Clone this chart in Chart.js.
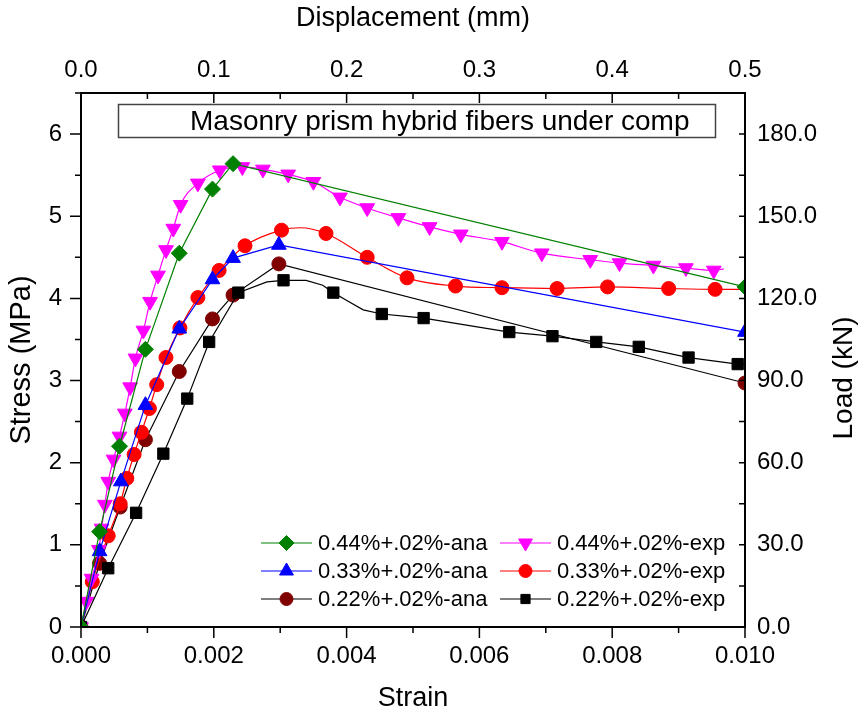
<!DOCTYPE html>
<html>
<head>
<meta charset="utf-8">
<script src="https://cdn.jsdelivr.net/npm/chart.js@4/dist/chart.umd.min.js"></script>
<style>
  body { margin: 0; background: #fff; }
  #wrap { width: 859px; height: 717px; }
</style>
</head>
<body>
<div id="wrap"><canvas id="stressChart" width="859" height="717"></canvas></div>
<script>
// values: strain (-) against stress (MPa)
var ana44Strain = [0, 0.00028, 0.00058, 0.00097, 0.00148, 0.00198, 0.00229, 0.0100];
var ana44Stress = [0, 1.16, 2.20, 3.38, 4.55, 5.33, 5.64, 4.14];

var ana33Strain = [0, 0.00028, 0.00060, 0.00097, 0.00148, 0.00198, 0.00229, 0.00298, 0.0100];
var ana33Stress = [0, 0.92, 1.77, 2.70, 3.63, 4.23, 4.49, 4.65, 3.59];

var ana22Strain = [0, 0.00028, 0.00059, 0.00097, 0.00148, 0.00198, 0.00229, 0.00298, 0.0100];
var ana22Stress = [0, 0.775, 1.46, 2.28, 3.11, 3.75, 4.04, 4.42, 2.97];

var exp44Strain = [0, 0.00008, 0.00016, 0.00027, 0.00031, 0.00036, 0.00041, 0.00049, 0.00058, 0.00066, 0.00074, 0.00082,
  0.00094, 0.00104, 0.00116, 0.00128, 0.00139, 0.0015, 0.00176, 0.00209, 0.00243, 0.00274, 0.00312, 0.0035, 0.0039,
  0.00431, 0.00478, 0.00525, 0.00572, 0.00634, 0.00694, 0.00767, 0.00811, 0.00862, 0.00911, 0.00953, 0.00968];
var exp44Stress = [0, 0.31, 0.59, 0.94, 1.20, 1.49, 1.77, 2.04, 2.32, 2.60, 2.92, 3.27,
  3.61, 3.96, 4.28, 4.59, 4.85, 5.14, 5.40, 5.56, 5.60, 5.57, 5.51, 5.42, 5.23,
  5.10, 4.98, 4.87, 4.78, 4.69, 4.55, 4.47, 4.43, 4.40, 4.37, 4.34, 4.36];
var exp44Marked = [1,1,1,1,1,1,1,1,1,1,1,1, 1,1,1,1,1,1,1,1,1,1,1,1,1, 1,1,1,1,1,1,1,1,1,1,1,0];

var exp33Strain = [0, 0.00017, 0.00041, 0.00059, 0.00069, 0.0008, 0.00091, 0.00103, 0.00114, 0.00128, 0.00149, 0.00176,
  0.00208, 0.00247, 0.00302, 0.0033, 0.00369, 0.00431, 0.00491, 0.00564, 0.00634, 0.00717, 0.00793, 0.00885, 0.00955, 0.0100];
var exp33Stress = [0, 0.55, 1.11, 1.50, 1.81, 2.10, 2.37, 2.66, 2.95, 3.28, 3.64, 4.01,
  4.34, 4.64, 4.83, 4.86, 4.79, 4.50, 4.25, 4.15, 4.13, 4.12, 4.14, 4.12, 4.11, 4.11];
var exp33Marked = [1,1,1,1,1,1,1,1,1,1,1,1, 1,1,1,0,1,1,1,1,1,1,1,1,1,0];

var exp22Strain = [0, 0.00041, 0.00083, 0.00124, 0.0016, 0.00193, 0.00237, 0.0028, 0.00305, 0.00339, 0.00364, 0.0038,
  0.00399, 0.00425, 0.00453, 0.0049, 0.00516, 0.00645, 0.0071, 0.00776, 0.0084, 0.00915, 0.00989, 0.0100];
var exp22Stress = [0, 0.715, 1.39, 2.11, 2.78, 3.47, 4.07, 4.20, 4.22, 4.22, 4.16, 4.07,
  3.98, 3.86, 3.81, 3.78, 3.76, 3.59, 3.54, 3.47, 3.41, 3.28, 3.20, 3.20];
var exp22Marked = [1,1,1,1,1,1,1,0,1,0,0,1, 0,0,1,0,1,1,1,1,1,1,1,0];

var seriesNames = ['0.44%+.02%-ana', '0.33%+.02%-ana', '0.22%+.02%-ana', '0.44%+.02%-exp', '0.33%+.02%-exp', '0.22%+.02%-exp'];

var strainTicks = [0, 0.002, 0.004, 0.006, 0.008, 0.010];
var stressTicks = [0, 1, 2, 3, 4, 5, 6];
var dispTicks = [0, 0.1, 0.2, 0.3, 0.4, 0.5];
var loadTicks = [0, 30, 60, 90, 120, 150, 180];

var FONT = "'Liberation Sans', Arial, sans-serif";

function toPoints(xs, ys) {
  return xs.map(function (x, i) { return { x: x, y: ys[i] }; });
}

function makeSet(label, xs, ys, lineColor, fillColor, style, r, rot, marked, smooth) {
  return {
    label: label,
    data: toPoints(xs, ys),
    xAxisID: 'x',
    yAxisID: 'y',
    borderColor: lineColor,
    borderWidth: 1.2,
    backgroundColor: fillColor,
    pointBackgroundColor: fillColor,
    pointBorderColor: fillColor,
    pointBorderWidth: 1,
    pointStyle: style,
    pointRotation: rot,
    legendRadius: r,
    pointRadius: marked ? function (c) { return marked[c.dataIndex] ? r : 0; } : r,
    pointHoverRadius: r,
    tension: 0,
    cubicInterpolationMode: smooth ? 'monotone' : 'default',
    fill: false
  };
}

var sets = {
  ana44: makeSet(seriesNames[0], ana44Strain, ana44Stress, '#008000', '#008000', 'rectRot', 8, 0),
  ana33: makeSet(seriesNames[1], ana33Strain, ana33Stress, '#0000ff', '#0000ff', 'triangle', 8.5, 0),
  ana22: makeSet(seriesNames[2], ana22Strain, ana22Stress, '#000000', '#800000', 'circle', 7, 0),
  exp44: makeSet(seriesNames[3], exp44Strain, exp44Stress, '#ff00ff', '#ff00ff', 'triangle', 8.5, 180, exp44Marked, true),
  exp33: makeSet(seriesNames[4], exp33Strain, exp33Stress, '#ff0000', '#ff0000', 'circle', 7, 0, exp33Marked, true),
  exp22: makeSet(seriesNames[5], exp22Strain, exp22Stress, '#000000', '#000000', 'rect', 8, 0, exp22Marked)
};

// first dataset is painted last (on top)
var drawOrder = [sets.ana44, sets.ana33, sets.exp22, sets.exp44, sets.exp33, sets.ana22];
// legend rows: left column ana, right column exp
var legendRows = [[sets.ana44, sets.exp44], [sets.ana33, sets.exp33], [sets.ana22, sets.exp22]];

function drawMarker(ctx, ds, x, y, r) {
  ctx.fillStyle = ds.pointBackgroundColor;
  ctx.strokeStyle = ds.pointBorderColor;
  ctx.lineWidth = 1;
  Chart.helpers.drawPoint(ctx, { pointStyle: ds.pointStyle, rotation: ds.pointRotation, radius: r, borderWidth: 1 }, x, y);
}

var titleBox = {
  id: 'titleBox',
  afterDraw: function (chart) {
    var ctx = chart.ctx;
    ctx.save();
    ctx.strokeStyle = '#444';
    ctx.lineWidth = 1.5;
    ctx.strokeRect(118.5, 104.5, 597, 33);
    ctx.fillStyle = '#000';
    ctx.font = '28px ' + FONT;
    ctx.textBaseline = 'middle';
    ctx.textAlign = 'left';
    ctx.fillText('Masonry prism hybrid fibers under comp', 190, 122);
    ctx.restore();
  }
};

var legendBox = {
  id: 'legendBox',
  afterDraw: function (chart) {
    var ctx = chart.ctx;
    var colX = [261, 500];
    var rowY = [543, 571, 599];
    ctx.save();
    ctx.font = '22px ' + FONT;
    ctx.textBaseline = 'middle';
    ctx.textAlign = 'left';
    legendRows.forEach(function (row, ri) {
      row.forEach(function (ds, ci) {
        var x0 = colX[ci], y = rowY[ri];
        ctx.strokeStyle = ds.borderColor;
        ctx.lineWidth = 1.2;
        ctx.beginPath();
        ctx.moveTo(x0, y);
        ctx.lineTo(x0 + 51, y);
        ctx.stroke();
        drawMarker(ctx, ds, x0 + 25.5, y, ds.pointStyle === 'rect' ? 6.5 : ds.legendRadius - 0.5);
        ctx.fillStyle = '#000';
        ctx.fillText(ds.label, x0 + 57, y + 1);
      });
    });
    ctx.restore();
  }
};

var frameAndTicks = {
  id: 'frameAndTicks',
  afterDatasetsDraw: function (chart) {
    var ctx = chart.ctx, a = chart.chartArea, s = chart.scales;
    var i, p, len;
    ctx.save();
    ctx.strokeStyle = '#000';
    ctx.lineWidth = 1.5;
    ctx.beginPath();
    // bottom: outward
    for (i = 0; i <= 10; i++) {
      p = s.x.getPixelForValue(i * 0.001);
      len = i % 2 === 0 ? 11 : 6;
      ctx.moveTo(p, a.bottom); ctx.lineTo(p, a.bottom + len);
    }
    // left: outward
    for (i = 0; i <= 13; i++) {
      p = s.y.getPixelForValue(i * 0.5);
      len = i % 2 === 0 ? 11 : 6;
      ctx.moveTo(a.left, p); ctx.lineTo(a.left - len, p);
    }
    // top: inward
    for (i = 0; i <= 10; i++) {
      p = s.x2.getPixelForValue(i * 0.05);
      len = i % 2 === 0 ? 10 : 6;
      ctx.moveTo(p, a.top); ctx.lineTo(p, a.top + len);
    }
    // right: inward
    for (i = 0; i <= 13; i++) {
      p = s.y2.getPixelForValue(i * 15);
      ctx.moveTo(a.right, p); ctx.lineTo(a.right - 6, p);
    }
    ctx.stroke();
    ctx.lineWidth = 2;
    ctx.strokeRect(a.left, a.top, a.right - a.left, a.bottom - a.top);
    // right axis title reads bottom to top
    ctx.fillStyle = '#000';
    ctx.font = '28px ' + FONT;
    ctx.textAlign = 'center';
    ctx.textBaseline = 'middle';
    ctx.translate(844, 378);
    ctx.rotate(-Math.PI / 2);
    ctx.fillText('Load (kN)', 0, 0);
    ctx.restore();
  }
};

function tickFont() { return { family: FONT, size: 24 }; }
function titleFont(sz) { return { family: FONT, size: sz || 27 }; }
function fixedTicks(list) {
  return function (scale) { scale.ticks = list.map(function (v) { return { value: v }; }); };
}

new Chart(document.getElementById('stressChart'), {
  type: 'line',
  data: { datasets: drawOrder },
  options: {
    responsive: false,
    animation: false,
    events: [],
    layout: { padding: 0 },
    plugins: { legend: { display: false }, tooltip: { enabled: false }, title: { display: false } },
    scales: {
      x: {
        type: 'linear', position: 'bottom', min: 0, max: 0.010,
        afterFit: function (sc) { sc.height = 90; },
        afterBuildTicks: fixedTicks(strainTicks),
        grid: { display: false, drawTicks: false }, border: { display: false },
        ticks: { color: '#000', font: tickFont(), padding: 15, maxRotation: 0, autoSkip: false,
          callback: function (v) { return Number(v).toFixed(3); } },
        title: { display: true, text: 'Strain', color: '#000', font: titleFont(), padding: { top: 0, bottom: 2 } }
      },
      x2: {
        type: 'linear', position: 'top', min: 0, max: 0.5,
        afterFit: function (sc) { sc.height = 93; },
        afterBuildTicks: fixedTicks(dispTicks),
        grid: { display: false, drawTicks: false }, border: { display: false },
        ticks: { color: '#000', font: tickFont(), padding: 8, maxRotation: 0, autoSkip: false,
          callback: function (v) { return Number(v).toFixed(1); } },
        title: { display: true, text: 'Displacement (mm)', color: '#000', font: titleFont(), padding: { top: 2, bottom: 0 } }
      },
      y: {
        type: 'linear', position: 'left', min: 0, max: 6.5,
        afterFit: function (sc) { sc.width = 81; },
        afterBuildTicks: fixedTicks(stressTicks),
        grid: { display: false, drawTicks: false }, border: { display: false },
        ticks: { color: '#000', font: tickFont(), padding: 19, autoSkip: false,
          callback: function (v) { return String(v); } },
        title: { display: true, text: 'Stress (MPa)', color: '#000', font: titleFont(29), padding: { top: 5, bottom: 0 } }
      },
      y2: {
        type: 'linear', position: 'right', min: 0, max: 195,
        afterFit: function (sc) { sc.width = 114; },
        afterBuildTicks: fixedTicks(loadTicks),
        grid: { display: false, drawTicks: false }, border: { display: false },
        ticks: { color: '#000', font: tickFont(), padding: 12, autoSkip: false,
          callback: function (v) { return Number(v).toFixed(1); } },
        title: { display: false }
      }
    }
  },
  plugins: [titleBox, frameAndTicks, legendBox]
});
</script>
</body>
</html>
